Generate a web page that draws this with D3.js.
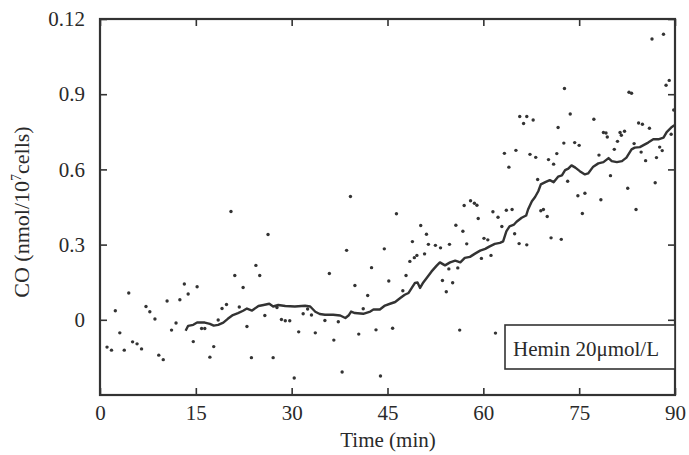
<!DOCTYPE html>
<html>
<head>
<meta charset="utf-8">
<script src="https://cdn.jsdelivr.net/npm/d3@7"></script>
<style>
  body { margin: 0; background: #fff; }
  svg text { font-family: "Liberation Serif", "Times New Roman", serif; fill: #2a2a2a; }
</style>
</head>
<body>
<svg id="chart" width="689" height="455"></svg>
<script>
// scatter measurements (time in min, CO)
var dotTime = [1.1,1.8,2.4,3.1,3.8,4.5,5.1,5.8,6.5,7.2,7.8,8.6,9.2,9.9,10.5,11.2,11.9,12.5,13.2,13.8,
  14.6,15.2,15.9,16.4,17.2,17.8,18.5,19.1,19.8,20.5,21.1,21.8,22.4,23.0,23.7,24.4,25.0,25.8,26.3,27.1,
  27.7,28.4,29.0,29.7,30.4,31.1,31.8,32.5,33.1,33.7,35.2,35.9,36.6,37.3,37.9,38.6,39.2,39.9,40.5,41.2,
  41.9,42.5,43.2,43.9,44.5,45.2,45.8,46.4,47.4,47.9,48.5,48.9,49.2,49.6,50.2,50.8,51.1,51.4,52.5,53.3,
  53.6,54.2,54.6,54.7,55.2,55.7,56.0,56.3,56.8,57.0,57.4,58.0,58.6,59.0,59.2,59.7,60.1,60.7,61.2,61.5,
  61.9,62.3,62.9,63.3,63.6,64.0,64.5,64.9,65.1,65.6,65.7,66.3,66.8,66.8,67.3,67.8,68.2,68.5,69.0,69.4,
  70.0,70.2,70.6,71.0,71.5,71.7,72.2,72.6,72.7,73.2,73.6,74.3,74.8,75.0,75.5,75.9,77.3,78.1,78.4,78.8,
  79.2,79.4,79.9,80.5,81.0,81.4,81.6,82.1,82.6,82.8,83.2,83.6,83.9,84.3,84.7,84.9,85.4,86.0,86.4,86.9,
  87.1,87.6,88.0,88.2,88.6,89.1,89.4,89.8];
var dotCO = [-0.109,-0.121,0.036,-0.052,-0.121,0.107,-0.088,-0.096,-0.116,0.053,0.032,0.003,-0.141,-0.159,0.075,-0.041,-0.013,0.080,0.143,0.103,
  -0.087,0.132,-0.035,-0.035,-0.149,-0.107,-0.001,0.045,0.061,0.432,0.177,0.051,0.129,-0.027,-0.151,0.217,0.177,0.017,0.340,-0.151,
  0.049,0.001,-0.004,-0.004,-0.232,-0.048,0.024,0.043,0.019,-0.052,-0.003,0.185,-0.081,-0.008,-0.208,0.277,0.492,0.137,-0.057,0.044,
  0.097,0.208,-0.040,-0.224,0.283,0.155,-0.034,0.423,0.116,0.177,0.233,0.312,0.248,0.257,0.376,0.263,0.341,0.301,0.297,0.287,
  0.157,0.112,0.203,0.301,0.148,0.377,0.207,-0.041,0.353,0.456,0.303,0.475,0.465,0.457,0.404,0.245,0.325,0.319,0.257,0.431,
  -0.053,0.409,0.372,0.664,0.437,0.609,0.440,0.343,0.676,0.304,0.811,0.783,0.811,0.299,0.660,0.797,0.648,0.560,0.435,0.440,
  0.412,0.639,0.327,0.621,0.663,0.767,0.321,0.705,0.923,0.553,0.821,0.707,0.495,0.696,0.424,0.505,0.800,0.657,0.479,0.747,
  0.745,0.729,0.575,0.680,0.712,0.747,0.736,0.752,0.525,0.908,0.904,0.703,0.440,0.785,0.669,0.780,0.635,0.764,1.120,0.547,
  0.647,0.689,0.675,1.139,0.936,0.955,0.740,0.837];

// running curve
var lineTime = [13.4,13.8,14.6,15.2,16.4,17.2,17.8,18.5,19.3,20.0,20.8,21.6,22.4,23.0,23.8,24.8,25.6,26.5,27.1,27.9,
  29.0,30.5,32.1,32.9,33.7,34.4,35.2,36.5,37.6,38.4,38.9,39.3,39.9,41.2,42.3,42.8,43.8,44.6,45.4,46.2,
  47.0,47.7,48.3,48.8,49.3,49.7,50.1,50.6,51.4,51.9,52.7,53.2,54.0,54.8,55.6,56.4,57.1,57.9,58.7,59.5,
  60.3,61.0,61.8,62.6,63.1,63.6,64.1,64.8,65.2,66.0,66.7,67.0,67.6,68.1,68.6,69.0,69.7,70.4,71.0,71.7,
  72.3,72.8,73.3,73.8,74.4,75.1,75.9,76.4,77.2,78.0,78.8,79.6,80.1,80.9,81.7,82.4,83.2,83.7,84.5,85.0,
  85.8,86.6,87.4,88.2,88.7,89.4,89.9];
var lineCO = [-0.044,-0.024,-0.020,-0.011,-0.011,-0.016,-0.023,-0.020,-0.011,0.004,0.019,0.027,0.036,0.045,0.037,0.055,0.059,0.064,0.053,0.059,
  0.055,0.053,0.056,0.053,0.032,0.023,0.020,0.020,0.017,0.007,0.017,0.033,0.027,0.024,0.033,0.041,0.041,0.057,0.064,0.071,
  0.087,0.100,0.107,0.127,0.147,0.149,0.127,0.149,0.176,0.193,0.216,0.229,0.217,0.229,0.236,0.229,0.247,0.251,0.264,0.276,
  0.283,0.293,0.303,0.307,0.313,0.353,0.373,0.380,0.391,0.407,0.416,0.440,0.473,0.490,0.513,0.540,0.549,0.557,0.549,0.571,
  0.576,0.597,0.603,0.616,0.607,0.593,0.580,0.584,0.611,0.624,0.629,0.645,0.633,0.629,0.633,0.647,0.680,0.687,0.689,0.696,
  0.707,0.720,0.720,0.727,0.749,0.767,0.776];

var xTicks = [0, 15, 30, 45, 60, 75, 90];
var yTicks = [0, 0.3, 0.6, 0.9, 1.2];
var yTickLabels = ['0', '0.3', '0.6', '0.9', '0.12'];

var svg = d3.select('#chart');
var ink = '#333';
var x = d3.scaleLinear().domain([0, 90]).range([100, 675]);
var y = d3.scaleLinear().domain([-0.3, 1.2]).range([395, 19]);

// inward ticks on all four sides
var tl = 7;
svg.append('g').attr('transform', 'translate(0,395)')
  .call(d3.axisBottom(x).tickValues(xTicks).tickSizeInner(-tl).tickSizeOuter(0).tickPadding(tl + 3))
  .call(function(g) {
    g.select('.domain').remove();
    g.selectAll('line').attr('stroke', ink).attr('stroke-width', 1.6);
    g.selectAll('text').attr('font-size', 21).attr('fill', '#2a2a2a');
  });
svg.append('g').attr('transform', 'translate(0,19)')
  .call(d3.axisTop(x).tickValues(xTicks).tickSizeInner(-tl).tickSizeOuter(0).tickFormat(''))
  .call(function(g) { g.select('.domain').remove(); g.selectAll('line').attr('stroke', ink).attr('stroke-width', 1.6); });
svg.append('g').attr('transform', 'translate(100,0)')
  .call(d3.axisLeft(y).tickValues(yTicks).tickSizeInner(-tl).tickSizeOuter(0).tickPadding(tl + 8)
    .tickFormat(function(d, i) { return yTickLabels[i]; }))
  .call(function(g) {
    g.select('.domain').remove();
    g.selectAll('line').attr('stroke', ink).attr('stroke-width', 1.6);
    g.selectAll('text').attr('font-size', 21).attr('fill', '#2a2a2a');
  });
svg.append('g').attr('transform', 'translate(675,0)')
  .call(d3.axisRight(y).tickValues(yTicks).tickSizeInner(-tl).tickSizeOuter(0).tickFormat(''))
  .call(function(g) { g.select('.domain').remove(); g.selectAll('line').attr('stroke', ink).attr('stroke-width', 1.6); });

// frame
svg.append('rect').attr('x', 100).attr('y', 19).attr('width', 575).attr('height', 376)
  .attr('fill', 'none').attr('stroke', ink).attr('stroke-width', 2.2);

// scatter dots
svg.append('g').selectAll('circle').data(dotTime).join('circle')
  .attr('cx', function(d) { return x(d); })
  .attr('cy', function(d, i) { return y(dotCO[i]); })
  .attr('r', 1.7).attr('fill', ink);

// curve
var pts = lineTime.map(function(t, i) { return [t, lineCO[i]]; });
svg.append('path').datum(pts)
  .attr('d', d3.line().x(function(d) { return x(d[0]); }).y(function(d) { return y(d[1]); }))
  .attr('fill', 'none').attr('stroke', ink).attr('stroke-width', 2.4).attr('stroke-linejoin', 'round');

// legend box
svg.append('rect').attr('x', 505).attr('y', 325).attr('width', 170).attr('height', 44)
  .attr('fill', '#fff').attr('stroke', ink).attr('stroke-width', 1.6);
svg.append('text').attr('x', 513).attr('y', 356).attr('font-size', 21).text('Hemin 20μmol/L');

// axis titles
svg.append('text').attr('x', 388).attr('y', 447).attr('text-anchor', 'middle').attr('font-size', 21).text('Time (min)');
var yl = svg.append('text').attr('transform', 'translate(29,212) rotate(-90)')
  .attr('text-anchor', 'middle').attr('font-size', 22);
yl.append('tspan').text('CO (nmol/10');
yl.append('tspan').attr('dy', -8).attr('font-size', 14).text('7');
yl.append('tspan').attr('dy', 8).text('cells)');
</script>
</body>
</html>
